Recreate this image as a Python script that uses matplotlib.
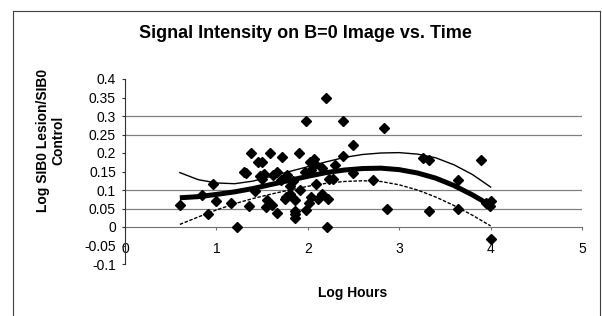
import matplotlib.pyplot as plt
from matplotlib.lines import Line2D

plt.rcParams['font.family'] = ['Liberation Sans', 'DejaVu Sans']

# Puntos medidos (log horas, log SIB0 lesion / SIB0 control)
log_hours = [0.60, 0.84, 0.91, 0.96, 1.00, 1.16, 1.23, 1.30, 1.32, 1.36,
             1.38, 1.42, 1.46, 1.50, 1.48, 1.50, 1.52, 1.54, 1.55, 1.59,
             1.61, 1.62, 1.66, 1.66, 1.71, 1.72, 1.75, 1.77, 1.76, 1.80,
             1.80, 1.84, 1.86, 1.86, 1.86, 1.86, 1.905, 1.92, 1.97, 1.985,
             1.985, 2.015, 2.02, 2.03, 2.04, 2.07, 2.08, 2.09, 2.11, 2.15,
             2.15, 2.20, 2.215, 2.22, 2.23, 2.28, 2.295, 2.38, 2.385, 2.49,
             2.49, 2.71, 2.83, 2.87, 3.26, 3.33, 3.33, 3.64, 3.64, 3.90,
             3.95, 3.99, 4.00, 4.00]
log_ratio = [0.059, 0.086, 0.036, 0.117, 0.071, 0.064, 0.000, 0.148, 0.145, 0.056,
             0.200, 0.098, 0.177, 0.175, 0.137, 0.130, 0.142, 0.055, 0.074, 0.199,
             0.059, 0.140, 0.149, 0.037, 0.128, 0.190, 0.077, 0.140, 0.082, 0.090,
             0.110, 0.125, 0.074, 0.044, 0.034, 0.023, 0.200, 0.100, 0.149, 0.287,
             0.047, 0.065, 0.176, 0.080, 0.153, 0.183, 0.170, 0.115, 0.077, 0.159,
             0.088, 0.350, 0.000, 0.077, 0.130, 0.130, 0.168, 0.192, 0.287, 0.222,
             0.145, 0.126, 0.267, 0.049, 0.186, 0.180, 0.042, 0.126, 0.050, 0.182,
             0.065, 0.057, 0.070, -0.033]

# Curvas de ajuste
fit_x = [0.6, 0.8, 1.0, 1.2, 1.4, 1.6, 1.8, 2.0, 2.2, 2.4,
         2.6, 2.8, 3.0, 3.2, 3.4, 3.6, 3.8, 4.0]
fit_mean = [0.079, 0.082, 0.088, 0.095, 0.104, 0.115, 0.126, 0.137, 0.147, 0.154,
            0.158, 0.159, 0.155, 0.146, 0.132, 0.112, 0.087, 0.058]
fit_upper = [0.147, 0.128, 0.119, 0.117, 0.124, 0.137, 0.150, 0.163, 0.176, 0.188,
             0.196, 0.200, 0.201, 0.197, 0.187, 0.168, 0.142, 0.108]
fit_lower = [0.007, 0.027, 0.046, 0.063, 0.077, 0.089, 0.100, 0.110, 0.118, 0.123,
             0.125, 0.123, 0.114, 0.100, 0.081, 0.058, 0.032, 0.003]

x_ticks = [0, 1, 2, 3, 4, 5]
y_ticks = [-0.1, -0.05, 0, 0.05, 0.1, 0.15, 0.2, 0.25, 0.3, 0.35, 0.4]
y_tick_labels = ['-0.1', '-0.05', '0', '0.05', '0.1', '0.15', '0.2', '0.25', '0.3', '0.35', '0.4']
grid_levels = [0.05, 0.1, 0.25, 0.3]

W, H = 602, 316
fig = plt.figure(figsize=(W / 100, H / 100), dpi=100)
ax = fig.add_axes([125 / W, 1 - 264 / H, 457 / W, 185 / H])

for g in grid_levels:
    ax.axhline(g, color='#808080', lw=0.9, zorder=1)

ax.plot(fit_x, fit_upper, color='black', lw=1.0, zorder=2)
ax.plot(fit_x, fit_lower, color='black', lw=1.0, ls=(0, (2.5, 1.2)), zorder=2)
ax.plot(fit_x, fit_mean, color='black', lw=3.6, zorder=3, solid_capstyle='butt')
ax.plot(log_hours, log_ratio, 'D', color='black', ms=5, ls='none', zorder=4)

ax.set_xlim(0, 5)
ax.set_ylim(-0.1, 0.4)
ax.set_xticks(x_ticks)
ax.set_xticklabels([str(t) for t in x_ticks])
ax.set_yticks(y_ticks)
ax.set_yticklabels(y_tick_labels)

ax.spines['top'].set_visible(False)
ax.spines['right'].set_visible(False)
ax.spines['bottom'].set_position(('data', 0))
ax.spines['bottom'].set_color('#707070')
ax.spines['left'].set_color('#303030')
ax.spines['bottom'].set_zorder(1)
ax.tick_params(axis='x', direction='out', length=2.5, pad=8.5, labelsize=10, color='#707070')
ax.tick_params(axis='y', direction='out', length=2.5, pad=4, labelsize=10, color='#303030')
ax.set_facecolor('none')

fig.text(305 / W, 1 - 34 / H, 'Signal Intensity on B=0 Image vs. Time',
         fontsize=13, fontweight='bold', ha='center', va='center')
fig.text(353 / W, 1 - 293 / H, 'Log Hours', fontsize=10, fontweight='bold',
         ha='center', va='center')
fig.text(51 / W, 1 - 140 / H, 'Log SIB0 Lesion/SIB0\nControl', fontsize=10,
         fontweight='bold', ha='center', va='center', rotation=90,
         multialignment='center', linespacing=1.1)

# Borde del area del grafico
bx0, bx1, by1 = 13 / W, 600 / W, 1 - 11 / H
for xs, ys in [([bx0, bx0], [0, by1]), ([bx0, bx1], [by1, by1]), ([bx1, bx1], [0, by1])]:
    fig.add_artist(Line2D(xs, ys, transform=fig.transFigure, color='#404040', lw=0.8))

fig.savefig('out.png', dpi=100)
